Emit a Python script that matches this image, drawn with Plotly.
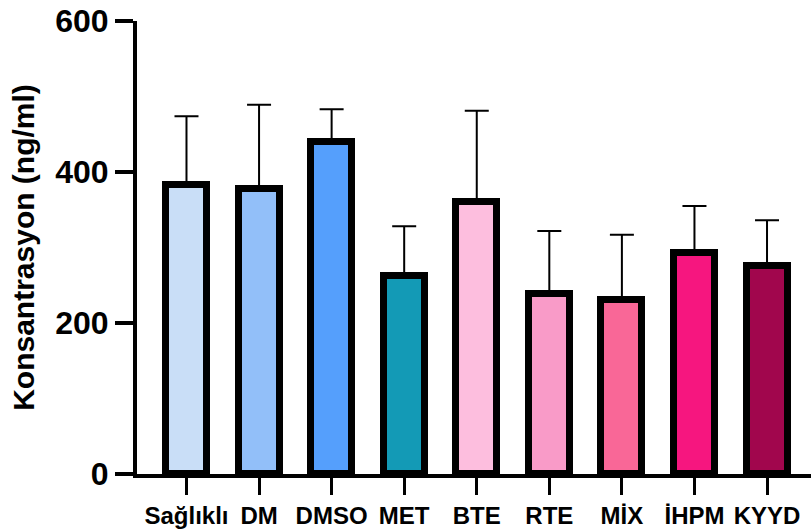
import plotly.graph_objects as go

categories = ["Sağlıklı", "DM", "DMSO", "MET", "BTE", "RTE", "MİX", "İHPM", "KYYD"]
means = [383, 377, 440, 262, 360, 238, 230, 293, 276]
sd_upper = [91, 112, 43, 66, 121, 84, 87, 62, 60]
colors = ["#C9DEF7", "#92BFF9", "#559FFC", "#139AB6", "#FDBEDE",
          "#F99BC8", "#F96797", "#F6167F", "#A1064D"]
y_ticks = [0, 200, 400, 600]

FONT = "Liberation Sans, Arial, sans-serif"

fig = go.Figure()
fig.add_trace(go.Bar(
    x=list(range(len(categories))),
    y=means,
    width=0.565,
    marker=dict(color=colors, line=dict(color="black", width=7)),
    error_y=dict(type="data", symmetric=False, array=sd_upper,
                 arrayminus=[0] * len(means),
                 color="black", thickness=2, width=12),
    showlegend=False,
))

fig.update_layout(
    width=811, height=530,
    margin=dict(l=137, r=0, t=21, b=56, autoexpand=False),
    plot_bgcolor="white", paper_bgcolor="white",
    bargap=0,
)
fig.update_xaxes(
    range=[-0.682, 8.606], automargin=False,
    tickmode="array", tickvals=list(range(len(categories))), ticktext=categories,
    showline=True, linecolor="black", linewidth=4,
    ticks="outside", ticklen=17, tickwidth=3, tickcolor="black",
    tickfont=dict(family=FONT, size=24, color="black", weight="bold"),
    showgrid=False, zeroline=False,
)
fig.update_yaxes(
    range=[0, 600], automargin=False,
    tickmode="array", tickvals=y_ticks,
    showline=True, linecolor="black", linewidth=4,
    ticks="outside", ticklen=18, tickwidth=4, tickcolor="black",
    tickfont=dict(family=FONT, size=32, color="black", weight="bold"),
    showgrid=False, zeroline=False,
    title=dict(text="Konsantrasyon (ng/ml)", standoff=13,
               font=dict(family=FONT, size=30, color="black", weight="bold")),
)

fig.write_html("out.html", config={"displayModeBar": False},
               post_script="document.body.style.margin='0';document.body.style.padding='0';")
